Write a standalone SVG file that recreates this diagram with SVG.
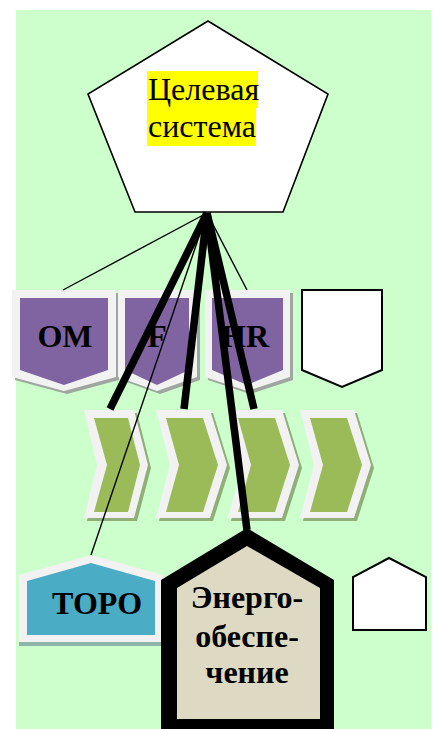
<svg xmlns="http://www.w3.org/2000/svg" width="438" height="729" viewBox="0 0 438 729">
  <style>
    .frame { fill: #f2f2f2; }
    .purple { fill: #8064a2; }
    .pshadow { fill: #9fa69f; }
    .green { fill: #9bbb59; }
    .gshadow { fill: #8fae78; }
    .blank { fill: #ffffff; stroke: #000000; stroke-width: 2; stroke-linejoin: miter; }
    .lbl { font-family: "Liberation Serif", "Times New Roman", serif; font-weight: bold; font-size: 32px; fill: #000000; }
    .thin { stroke: #000000; stroke-width: 1.4; fill: none; }
    .thick { stroke: #000000; stroke-width: 7.5; fill: none; }
  </style>

  <!-- page background -->
  <rect x="0" y="0" width="438" height="729" fill="#ffffff"/>
  <rect x="16" y="10" width="415" height="719" fill="#ccffcc"/>

  <!-- target system -->
  <g id="node-target">
    <polygon points="208,21 328,94 283,212 135,212 88,94" fill="#ffffff" stroke="#000000" stroke-width="1.6"/>
    <rect x="147" y="71" width="111" height="37" fill="#ffff00"/>
    <rect x="147" y="108" width="109" height="38" fill="#ffff00"/>
    <text x="148" y="100" font-family="Liberation Serif, Times New Roman, serif" font-size="32" fill="#000000">Целевая</text>
    <text x="148" y="137" font-family="Liberation Serif, Times New Roman, serif" font-size="32" fill="#000000">система</text>
  </g>

  <!-- function shields -->
  <g id="node-om">
    <polygon class="pshadow" points="15,293 119,293 119,380 67,394 15,380"/>
    <polygon class="frame" points="12,290 116,290 116,377 64,391 12,377"/>
    <polygon class="purple" points="20,298 108,298 108,370 64,385 20,370"/>
    <text class="lbl" x="65" y="347" text-anchor="middle">OM</text>
  </g>
  <g id="node-f">
    <polygon class="pshadow" points="121,293 200,293 200,380 160,394 121,380"/>
    <polygon class="frame" points="118,290 197,290 197,377 157,391 118,377"/>
    <polygon class="purple" points="125,298 189,298 189,370 157,385 125,370"/>
    <text class="lbl" x="157" y="347" text-anchor="middle">F</text>
  </g>
  <g id="node-hr">
    <polygon class="pshadow" points="208,293 293,293 293,380 250,394 208,380"/>
    <polygon class="frame" points="205,290 290,290 290,377 247,391 205,377"/>
    <polygon class="purple" points="212,298 283,298 283,370 247,385 212,370"/>
    <text class="lbl" x="245" y="347" text-anchor="middle">HR</text>
  </g>
  <g id="node-shield-empty">
    <polygon class="blank" points="302,290 382,290 382,370 342,387 302,370"/>
  </g>

  <!-- process chevrons -->
  <g id="node-step1">
    <polygon class="gshadow" points="87,413 137,413 151,468 137,521 87,521 100,468"/>
    <polygon class="frame" points="84,410 134,410 148,465 134,518 84,518 97,465"/>
    <polygon class="green" points="94,418 128,418 140,465 128,512 94,512 107,465"/>
  </g>
  <g id="node-step2">
    <polygon class="gshadow" points="159,413 213,413 230,468 213,521 159,521 173,468"/>
    <polygon class="frame" points="156,410 210,410 227,465 210,518 156,518 170,465"/>
    <polygon class="green" points="166,418 203,418 218,465 203,512 166,512 179,465"/>
  </g>
  <g id="node-step3">
    <polygon class="gshadow" points="231,413 285,413 302,468 285,521 231,521 245,468"/>
    <polygon class="frame" points="228,410 282,410 299,465 282,518 228,518 242,465"/>
    <polygon class="green" points="238,418 275,418 290,465 275,512 238,512 251,465"/>
  </g>
  <g id="node-step4">
    <polygon class="gshadow" points="303,413 357,413 374,468 357,521 303,521 317,468"/>
    <polygon class="frame" points="300,410 354,410 371,465 354,518 300,518 314,465"/>
    <polygon class="green" points="310,418 347,418 362,465 347,512 310,512 323,465"/>
  </g>

  <!-- links from the target system -->
  <g id="connectors">
    <line class="thin" x1="207" y1="213" x2="63" y2="290" stroke-width="1"/>
    <line class="thin" x1="207" y1="213" x2="247" y2="290"/>
    <line class="thin" x1="207" y1="213" x2="91" y2="555" stroke-width="1.8"/>
    <line class="thick" x1="207" y1="213" x2="110" y2="409"/>
    <line class="thick" x1="207" y1="213" x2="184" y2="409"/>
    <line class="thick" x1="207" y1="213" x2="254" y2="409"/>
    <line class="thick" x1="207" y1="213" x2="247" y2="530"/>
  </g>

  <!-- support services -->
  <g id="node-toro">
    <polygon fill="#8db5a9" points="19,578 91,558 163,578 163,646 19,646"/>
    <polygon class="frame" points="19,575 91,555 163,575 163,642 19,642"/>
    <polygon fill="#4bacc6" points="27,581 91,563 155,581 155,635 27,635"/>
    <text class="lbl" x="97" y="614" text-anchor="middle">ТОРО</text>
  </g>
  <g id="node-energy">
    <polygon fill="#000000" points="247,528 334,580 334,740 161,740 161,580"/>
    <polygon fill="#ddd9c3" points="247,546 320,588 320,719 177,719 177,588"/>
    <text class="lbl" x="247" y="608" text-anchor="middle" font-size="31">Энерго-</text>
    <text class="lbl" x="247" y="647" text-anchor="middle" font-size="31">обеспе-</text>
    <text class="lbl" x="247" y="683" text-anchor="middle" font-size="31">чение</text>
  </g>
  <g id="node-house-empty">
    <polygon class="blank" points="389,558 426,577 426,630 353,630 353,577"/>
  </g>
</svg>
